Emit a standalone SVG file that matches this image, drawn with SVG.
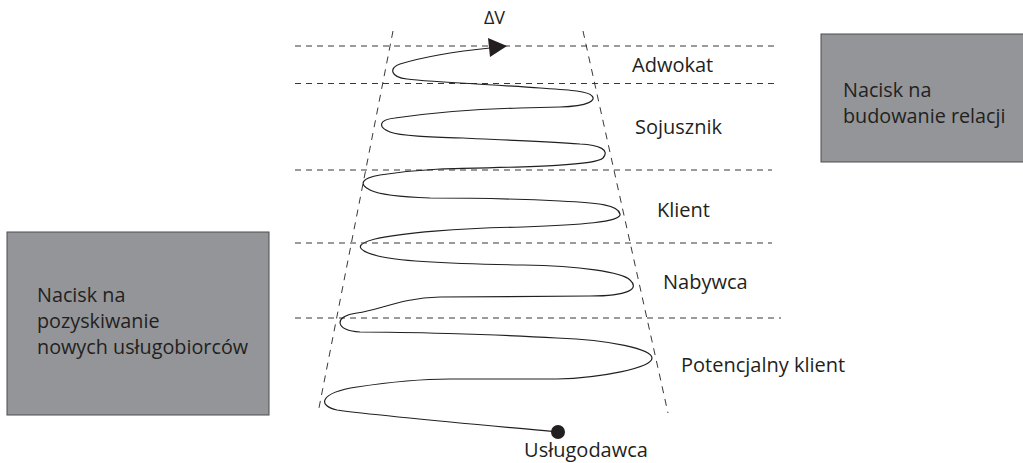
<svg xmlns="http://www.w3.org/2000/svg" width="1023" height="463" viewBox="0 0 1023 463">
<style>
.bg{fill:#ffffff}
.box{fill:#939598;stroke:#4d4d4f;stroke-width:1}
.t{font-family:"Open Sans","Noto Sans",sans-serif;font-size:20px;fill:#231f20}
.tb{font-family:"Open Sans","Noto Sans",sans-serif;font-size:19.8px;fill:#231f20}
.dh{stroke:#231f20;stroke-width:0.9;stroke-dasharray:6 5;fill:none}
.dv{stroke:#231f20;stroke-width:0.9;stroke-dasharray:7 6;fill:none}
.sp{stroke:#231f20;stroke-width:1.2;fill:none}
</style>
<rect class="bg" x="0" y="0" width="1023" height="463"/>
<g id="guides">
<line class="dh" x1="295" y1="46" x2="776" y2="46"/>
<line class="dh" x1="295" y1="83.5" x2="776" y2="83.5"/>
<line class="dh" x1="295" y1="170" x2="772" y2="170"/>
<line class="dh" x1="295" y1="243" x2="772" y2="243"/>
<line class="dh" x1="295" y1="318" x2="781" y2="318"/>
<line class="dv" x1="393" y1="31" x2="318" y2="413"/>
<line class="dv" x1="583" y1="31" x2="668" y2="413"/>
</g>
<g id="box-left">
<rect class="box" x="7" y="232" width="262" height="183"/>
<text class="tb" x="37" y="302">Nacisk na</text>
<text class="tb" x="37" y="328">pozyskiwanie</text>
<text class="tb" x="37" y="354">nowych usługobiorców</text>
</g>
<g id="box-right">
<rect class="box" x="821" y="34" width="205" height="128"/>
<text class="tb" x="843" y="97">Nacisk na</text>
<text class="tb" x="843" y="123">budowanie relacji</text>
</g>
<g id="labels">
<text class="t" x="632" y="72">Adwokat</text>
<text class="t" x="635" y="134">Sojusznik</text>
<text class="t" x="657" y="217">Klient</text>
<text class="t" x="663" y="289">Nabywca</text>
<text class="t" x="681" y="372">Potencjalny klient</text>
<text class="t" x="586" y="457" text-anchor="middle">Usługodawca</text>
<text class="t" x="494.5" y="24" text-anchor="middle" style="font-size:18px">ΔV</text>
</g>
<g id="connectors">
<path class="sp" d="M 558 432 C 470 424, 380 416, 337 410 C 318 406, 318 393, 357 387 C 390 382, 420 379, 450 379 L 557 379 C 600 378, 652 368, 652 358 C 652 349, 610 340, 557 338 C 490 334, 400 332, 360 332 C 335 331, 333 316, 357 313 C 381 310, 400 298, 440 297 L 590 296 C 628 296, 640 289, 630 280 C 622 272, 580 266, 523 265 C 460 264, 400 262, 378 256 C 355 250, 355 244, 375 239 C 400 233, 460 228, 523 227 C 580 225, 622 222, 620 214 C 618 205, 600 203, 560 201 C 520 199, 460 198, 430 198 C 400 197, 380 195, 370 190 C 358 184, 362 178, 380 175 C 400 172, 420 170, 440 169 C 520 167, 595 166, 603 158 C 610 150, 600 145, 580 144 C 540 141, 480 139, 463 138 C 430 137, 400 136, 390 132 C 378 127, 378 120, 395 118 C 430 113, 470 109, 520 108 L 560 107 C 590 106, 596 100, 592 96 C 588 91, 570 90, 540 88 C 500 85, 430 82, 407 79 C 390 77, 389 68, 400 64 C 420 58, 450 52, 490 48"/>
<polygon points="488,38 507,46 490,57" fill="#231f20"/>
<circle cx="558" cy="432" r="7" fill="#231f20"/>
</g>
</svg>
